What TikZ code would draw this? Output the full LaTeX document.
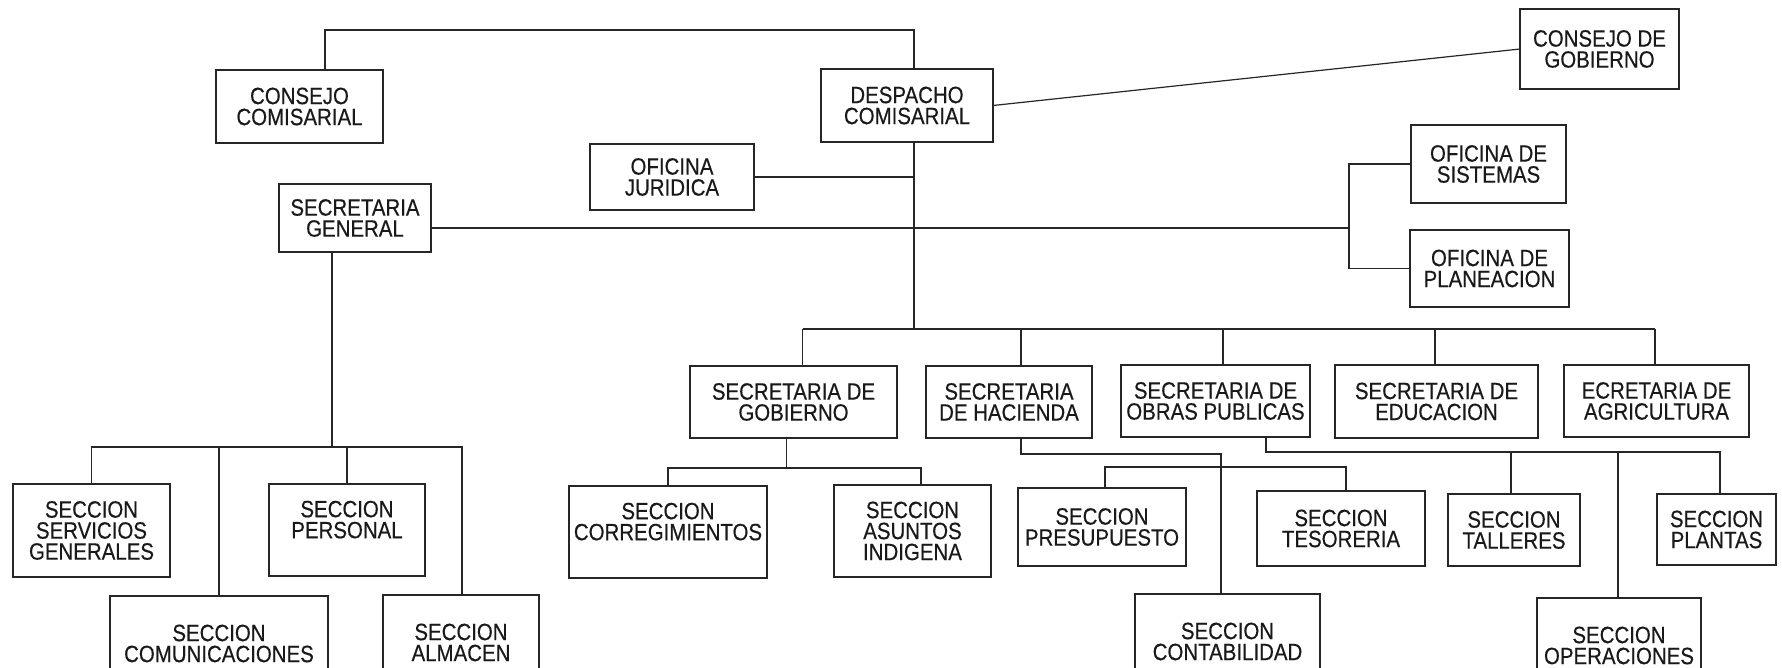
\documentclass[tikz,border=0pt]{standalone}
\usepackage{fontspec}
\setmainfont{Liberation Sans}[FakeStretch=0.87,FakeBold=0.4]
\newcommand\boxfont{\fontsize{23.5}{21}\selectfont}
\begin{document}
\begin{tikzpicture}[x=1pt,y=-1pt,
  bx/.style 2 args={draw=black!85, line width=1.2pt, inner sep=0pt, outer sep=0pt, align=center, font=\boxfont, text=black!90, minimum width=#1pt, minimum height=#2pt},
  ln/.style={draw=black!85, line width=1.2pt}]
\useasboundingbox (0,0) rectangle (1782,667);
\clip (0,0) rectangle (1782,667);
\fill[white] (0,0) rectangle (1782,667);

\node[bx={167}{73}] (cc) at (299.5,106.5) {CONSEJO\\COMISARIAL};
\node[bx={172}{73}] (dc) at (907,105.5) {DESPACHO\\COMISARIAL};
\node[bx={159}{80}] (cg) at (1599.5,49) {CONSEJO DE\\GOBIERNO};
\node[bx={164}{66}] (oj) at (672,177) {OFICINA\\JURIDICA};
\node[bx={152}{68}] (sg) at (355,218) {SECRETARIA\\GENERAL};
\node[bx={155}{78}] (os) at (1488.5,164) {OFICINA DE\\SISTEMAS};
\node[bx={159}{77}] (op) at (1489.5,268.5) {OFICINA DE\\PLANEACION};
\node[bx={207}{72}] (sgob) at (793.5,402) {SECRETARIA DE\\GOBIERNO};
\node[bx={166}{72}] (shac) at (1009,402) {SECRETARIA\\DE HACIENDA};
\node[bx={189}{72}] (sobr) at (1215.5,401) {SECRETARIA DE\\OBRAS PUBLICAS};
\node[bx={203}{73}] (sedu) at (1436.5,401.5) {SECRETARIA DE\\EDUCACION};
\node[bx={185}{72}] (sagr) at (1656.5,401) {ECRETARIA DE\\AGRICULTURA};
\node[bx={198}{92}] (corr) at (668,532) {SECCION\\CORREGIMIENTOS\\\mbox{}};
\node[bx={157}{92}] (asun) at (912.5,531) {SECCION\\ASUNTOS\\INDIGENA};
\node[bx={168}{78}] (pres) at (1102,527) {SECCION\\PRESUPUESTO};
\node[bx={168}{75}] (teso) at (1341,528.5) {SECCION\\TESORERIA};
\node[bx={132}{72}] (tall) at (1514,530) {SECCION\\TALLERES};
\node[bx={119}{71}] (plan) at (1716.5,529.5) {SECCION\\PLANTAS};
\node[bx={185}{95}] (cont) at (1227.5,641.5) {SECCION\\CONTABILIDAD};
\node[bx={164}{95}] (oper) at (1619,645.5) {SECCION\\OPERACIONES};
\node[bx={157}{93}] (ssg) at (91.5,530.5) {SECCION\\SERVICIOS\\GENERALES};
\node[bx={156}{92}] (pers) at (347,530) {SECCION\\PERSONAL\\\mbox{}};
\node[bx={218}{95}] (comu) at (219,643.5) {SECCION\\COMUNICACIONES};
\node[bx={156}{95}] (alma) at (461,642.5) {SECCION\\ALMACEN};

% top level
\coordinate (top) at (914,30);
\draw[ln] ([xshift=25.5pt]cc.north) |- (top) -- ([xshift=7pt]dc.north);
\draw[ln] (dc.east) -- (cg.west);
\coordinate (tr) at (914,329);
\draw[ln] ([xshift=7pt]dc.south) -- (tr);
\draw[ln] (oj.east) -- (oj.east -| tr);
\coordinate (br) at (1349,228);
\draw[ln] (sg.east |- br) -- (br);
\draw[ln] (os.west) -| (br) |- (op.west);

% secretarias bus
\coordinate (d1) at (802.5,329);
\coordinate (d2) at (1021,329);
\coordinate (d3) at (1223,329);
\coordinate (d4) at (1435,329);
\coordinate (d5) at (1655,329);
\draw[ln] (d1) -- (d5);
\foreach \d/\n in {d1/sgob,d2/shac,d3/sobr,d4/sedu,d5/sagr}
  \draw[ln] (\d) -- (\d |- \n.north);

% gobierno
\coordinate (g1) at (786.5,468);
\coordinate (g2) at (921,468);
\draw[ln] (sgob.south -| g1) -- (g1);
\draw[ln] (corr.north) |- (g2) -- (g2 |- asun.north);

% hacienda
\coordinate (h1) at (1021,454);
\coordinate (h2) at (1221,454);
\draw[ln] (shac.south -| h1) -- (h1) -- (h2) -- (h2 |- cont.north);
\coordinate (p1) at (1105,467);
\coordinate (p2) at (1346,467);
\draw[ln] (pres.north -| p1) -- (p1) -- (p2) -- (p2 |- teso.north);

% obras
\coordinate (o1) at (1266,452);
\coordinate (o2) at (1720,452);
\coordinate (o3) at (1511,452);
\coordinate (o4) at (1618,452);
\draw[ln] (sobr.south -| o1) -- (o1) -- (o2) -- (o2 |- plan.north);
\draw[ln] (o3) -- (o3 |- tall.north);
\draw[ln] (o4) -- (o4 |- oper.north);

% secretaria general
\coordinate (s0) at (332,447);
\coordinate (s4) at (462,447);
\draw[ln] (sg.south -| s0) -- (s0);
\draw[ln] (ssg.north) |- (s4) -- (s4 |- alma.north);
\draw[ln] (comu.north) -- (comu.north |- s0);
\draw[ln] (pers.north) -- (pers.north |- s0);
\end{tikzpicture}
\end{document}
